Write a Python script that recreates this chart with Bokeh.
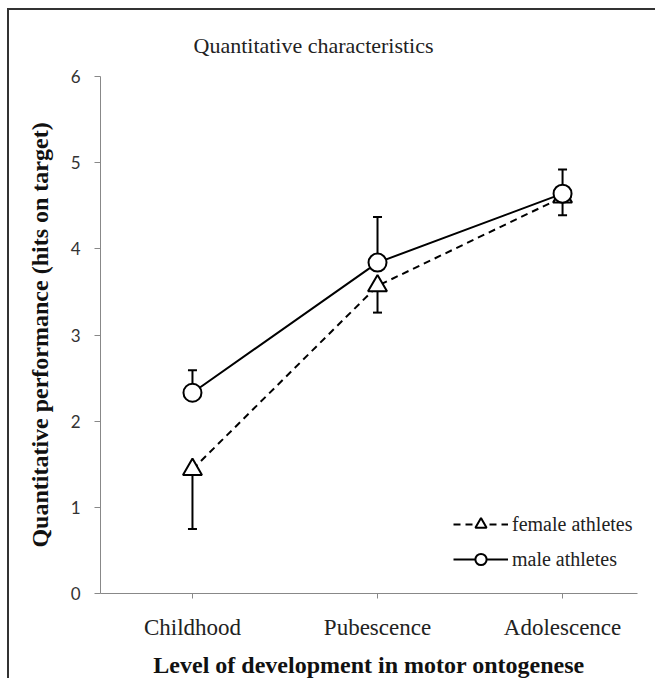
from bokeh.plotting import figure
from bokeh.models import FixedTicker, Range1d, Legend, LegendItem, ColumnDataSource
from bokeh.embed import file_html
from bokeh.resources import INLINE

categories = ["Childhood", "Pubescence", "Adolescence"]
female_mean = [1.44, 3.57, 4.60]
female_lower = [0.75, 3.26, 4.39]
male_mean = [2.33, 3.84, 4.64]
male_upper = [2.59, 4.37, 4.92]
y_ticks = [0, 1, 2, 3, 4, 5, 6]

xs = list(range(len(categories)))

p = figure(width=648, height=670, output_backend="svg", toolbar_location=None,
           x_range=Range1d(-0.497, 2.405), y_range=Range1d(0, 6),
           min_border_left=91, min_border_right=20, min_border_top=66, min_border_bottom=84)
p.styles = {"margin-left": "7px", "margin-top": "8px",
            "border-left": "2px solid #333333", "border-top": "2px solid #333333"}
p.outline_line_color = None
p.xgrid.grid_line_color = None
p.ygrid.grid_line_color = None
p.background_fill_color = "white"
p.border_fill_color = "white"

p.title.text = "Quantitative characteristics"
p.title.align = "left"
p.title.offset = 93
p.title.standoff = 38
p.title.text_font = "Liberation Serif"
p.title.text_font_style = "normal"
p.title.text_font_size = "22px"
p.title.text_color = "#222222"

AX = "#888888"
xa = p.xaxis[0]
xa.ticker = FixedTicker(ticks=xs)
xa.major_label_overrides = {i: c for i, c in zip(xs, categories)}
xa.axis_line_color = AX
xa.major_tick_line_color = AX
xa.major_tick_out = 5
xa.major_tick_in = 0
xa.minor_tick_line_color = None
xa.major_label_text_font = "Liberation Serif"
xa.major_label_text_font_size = "23px"
xa.major_label_text_color = "#222222"
xa.major_label_standoff = 16
xa.axis_label = "Level of development in motor ontogenese"
xa.axis_label_text_font = "Liberation Serif"
xa.axis_label_text_font_style = "bold"
xa.axis_label_text_font_size = "24px"
xa.axis_label_text_color = "#111111"
xa.axis_label_standoff = 9

ya = p.yaxis[0]
ya.ticker = FixedTicker(ticks=y_ticks)
ya.axis_line_color = AX
ya.major_tick_line_color = AX
ya.major_tick_out = 6
ya.major_tick_in = 0
ya.minor_tick_line_color = None
ya.major_label_text_font = "Lato"
ya.major_label_text_font_size = "17px"
ya.major_label_text_color = "#333333"
ya.major_label_standoff = 14
ya.axis_label = "Quantitative performance (hits on target)"
ya.axis_label_text_font = "Liberation Serif"
ya.axis_label_text_font_style = "bold"
ya.axis_label_text_font_size = "24px"
ya.axis_label_text_color = "#111111"
ya.axis_label_standoff = 15

src_f = ColumnDataSource(dict(x=xs, y=female_mean, lo=female_lower))
src_m = ColumnDataSource(dict(x=xs, y=male_mean, hi=male_upper))

# lines
lf = p.line("x", "y", source=src_f, line_color="black", line_width=2, line_dash="7 5")
lm = p.line("x", "y", source=src_m, line_color="black", line_width=2)

# error bars
p.segment(x0="x", y0="lo", x1="x", y1="y", source=src_f, line_color="black", line_width=2)
p.scatter("x", "lo", source=src_f, marker="dash", size=9, line_color="black", line_width=2)
p.segment(x0="x", y0="y", x1="x", y1="hi", source=src_m, line_color="black", line_width=2)
p.scatter("x", "hi", source=src_m, marker="dash", size=9, line_color="black", line_width=2)

# markers
mf = p.scatter("x", "y", source=src_f, marker="triangle", size=19, fill_color="white",
               line_color="black", line_width=2)
mm = p.scatter("x", "y", source=src_m, marker="circle", size=18, fill_color="white",
               line_color="black", line_width=2)

legend = Legend(items=[LegendItem(label="female athletes", renderers=[lf, mf]),
                       LegendItem(label="male athletes", renderers=[lm, mm])],
                location=(353, 20))
legend.border_line_color = None
legend.background_fill_alpha = 0
legend.padding = 0
legend.margin = 0
legend.spacing = 7
legend.glyph_width = 55
legend.glyph_height = 28
legend.label_height = 28
legend.label_standoff = 4
legend.label_text_font = "Liberation Serif"
legend.label_text_font_size = "20px"
legend.label_text_color = "#222222"
p.add_layout(legend, "center")

open("out.html", "w").write(file_html(p, INLINE))
